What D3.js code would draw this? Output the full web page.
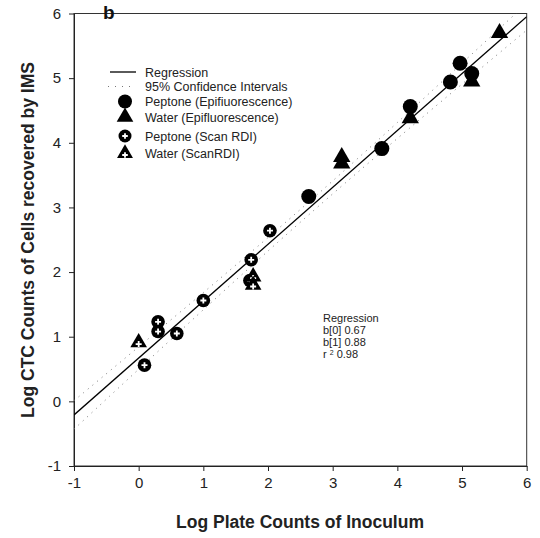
<!DOCTYPE html>
<html><head><meta charset="utf-8">
<script src="https://cdn.jsdelivr.net/npm/d3@7"></script>
<style>
body{margin:0;background:#fff;}
text{font-family:"Liberation Sans",Arial,sans-serif;}
</style></head>
<body><svg id="c" width="540" height="538"></svg>
<script>
// ---- data ----
const peptoneEpi = [[3.76,3.91],[4.20,4.56],[4.82,4.94],[4.97,5.23],[5.15,5.07],[2.63,3.17]];
const waterEpi = [[5.58,5.70],[5.15,4.95],[4.20,4.38],[3.14,3.68],[3.14,3.78]];
const peptoneScan = [[2.03,2.64],[1.74,2.19],[1.72,1.87],[1.00,1.56],[0.30,1.23],[0.30,1.08],[0.59,1.05],[0.09,0.56]];
const waterScan = [[1.77,1.93],[1.77,1.80],[0.00,0.91]];
const b0 = 0.67, b1 = 0.88, r2 = 0.98;
const xTicks = [-1,0,1,2,3,4,5,6];
const yTicks = [-1,0,1,2,3,4,5,6];
const legendLabels = ["Regression","95% Confidence Intervals","Peptone (Epifiuorescence)","Water (Epifluorescence)","Peptone (Scan RDI)","Water (ScanRDI)"];
const annotLines = ["Regression","b[0] 0.67","b[1] 0.88"];

// ---- layout ----
const svg = d3.select("#c");
const L=74, R=526.7, T=13.5, B=466;
const x = d3.scaleLinear().domain([-1,6]).range([L,R]);
const y = d3.scaleLinear().domain([-1,6]).range([B,T]);

svg.append("clipPath").attr("id","clip").append("rect").attr("x",L).attr("y",T).attr("width",R-L).attr("height",B-T);

// frame
svg.append("rect").attr("x",L).attr("y",T).attr("width",R-L).attr("height",B-T)
  .attr("fill","none").attr("stroke","#333").attr("stroke-width",1);

// axes
const fmt = d => String(d);
const xa = svg.append("g").attr("transform",`translate(0,${B})`)
  .call(d3.axisBottom(x).tickValues(xTicks).tickFormat(fmt).tickSize(5).tickSizeOuter(0).tickPadding(6));
const ya = svg.append("g").attr("transform",`translate(${L},0)`)
  .call(d3.axisLeft(y).tickValues(yTicks).tickFormat(fmt).tickSize(5).tickSizeOuter(0).tickPadding(6));
[xa,ya].forEach(g=>{
  g.select(".domain").attr("stroke","#222");
  g.selectAll(".tick line").attr("stroke","#222");
  g.selectAll(".tick text").attr("font-size",15).attr("fill","#222").attr("font-family","Liberation Sans, Arial, sans-serif");
});
ya.selectAll(".tick text").attr("dx","-2");

// CI band from data
const all = [...peptoneEpi,...waterEpi,...peptoneScan,...waterScan];
const n = all.length;
const xbar = d3.mean(all,d=>d[0]);
const sxx = d3.sum(all,d=>(d[0]-xbar)**2);
const sse = d3.sum(all,d=>(d[1]-(b0+b1*d[0]))**2);
const se = Math.sqrt(sse/(n-2));
const tval = 2.056;
const xs = d3.range(-1,6.001,0.05);
const hw = xv => tval*se*Math.sqrt(1/n + (xv-xbar)**2/sxx);
const plot = svg.append("g").attr("clip-path","url(#clip)");
[-1,1].forEach(s=>{
  plot.append("path")
    .attr("d", d3.line().x(v=>x(v)).y(v=>y(b0+b1*v+s*hw(v)))(xs))
    .attr("fill","none").attr("stroke","#777").attr("stroke-width",1).attr("stroke-dasharray","1,5");
});
plot.append("path")
  .attr("d", d3.line().x(v=>x(v)).y(v=>y(b0+b1*v))([-1,6]))
  .attr("fill","none").attr("stroke","#000").attr("stroke-width",1.3);

// markers
function plus(g,cx,cy,s){
  g.append("path").attr("d",`M${cx-s},${cy}H${cx+s}M${cx},${cy-s}V${cy+s}`)
    .attr("stroke","#fff").attr("stroke-width",1.8);
}
const mk = svg.append("g");
function drawCircle(g,cx,cy,r){ g.append("circle").attr("cx",cx).attr("cy",cy).attr("r",r).attr("fill","#000"); }
function drawTri(g,cx,cy,sz){ g.append("path").attr("d",d3.symbol().type(d3.symbolTriangle).size(sz)()).attr("transform",`translate(${cx},${cy})`).attr("fill","#000"); }

peptoneEpi.forEach(d=>drawCircle(mk,x(d[0]),y(d[1]),7.5));
waterEpi.forEach(d=>drawTri(mk,x(d[0]),y(d[1]),130));
peptoneScan.forEach(d=>{drawCircle(mk,x(d[0]),y(d[1]),6.8); plus(mk,x(d[0]),y(d[1]),3);});
waterScan.forEach(d=>{drawTri(mk,x(d[0]),y(d[1]),120); plus(mk,x(d[0]),y(d[1])+1.5,3);});

// legend
const lg = svg.append("g");
const ly = [72,86.5,101.5,117,136,153.5];
lg.append("line").attr("x1",110).attr("x2",136).attr("y1",ly[0]).attr("y2",ly[0]).attr("stroke","#000").attr("stroke-width",1.3);
lg.append("line").attr("x1",108).attr("x2",136).attr("y1",ly[1]).attr("y2",ly[1]).attr("stroke","#777").attr("stroke-dasharray","1,6");
drawCircle(lg,125,ly[2],7);
drawTri(lg,125,ly[3],120);
drawCircle(lg,125,ly[4],6.5); plus(lg,125,ly[4],2.8);
drawTri(lg,125,ly[5],110); plus(lg,125,ly[5]+1.5,2.8);
legendLabels.forEach((t,i)=>{
  lg.append("text").attr("x",145).attr("y",ly[i]+4.5).attr("font-size",12.5).attr("fill","#222").text(t);
});

// annotation
const an = svg.append("g").attr("font-size",11).attr("fill","#222");
annotLines.forEach((t,i)=>an.append("text").attr("x",323).attr("y",322+i*12).text(t));
const rt = an.append("text").attr("x",323).attr("y",322+3*12);
rt.append("tspan").text("r ");
rt.append("tspan").attr("font-size",7).attr("dy",-3).text("2");
rt.append("tspan").attr("dy",3).text(" "+r2.toFixed(2));

// titles
svg.append("text").attr("x",103).attr("y",19).attr("font-size",19).attr("font-weight","bold").attr("fill","#111").text("b");
svg.append("text").attr("x",300).attr("y",528).attr("text-anchor","middle").attr("font-size",17.5).attr("font-weight","bold").attr("fill","#222").text("Log Plate Counts of Inoculum");
svg.append("text").attr("transform","translate(34,240) rotate(-90)").attr("text-anchor","middle").attr("font-size",17.5).attr("font-weight","bold").attr("fill","#222").text("Log CTC Counts of Cells recovered by IMS");
</script></body></html>
